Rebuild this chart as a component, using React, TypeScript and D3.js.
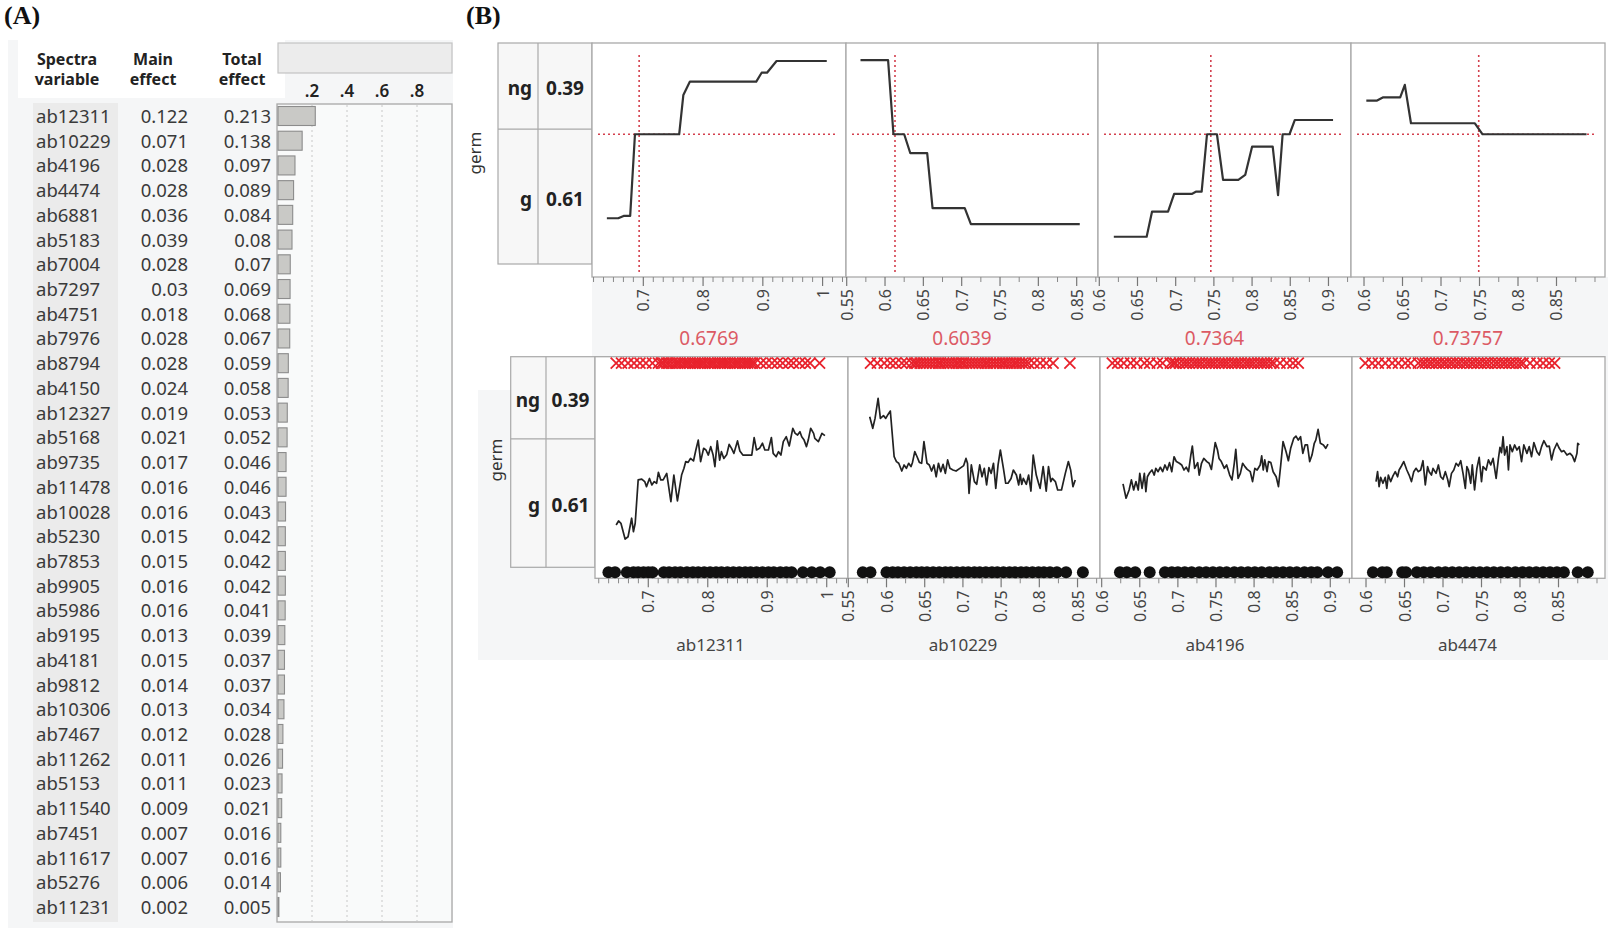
import React from "react";
import * as d3 from "d3";

// ---------- Panel A data ----------
const spectraVars = ["ab12311","ab10229","ab4196","ab4474","ab6881","ab5183","ab7004","ab7297","ab4751","ab7976","ab8794","ab4150","ab12327","ab5168","ab9735","ab11478","ab10028","ab5230","ab7853","ab9905","ab5986","ab9195","ab4181","ab9812","ab10306","ab7467","ab11262","ab5153","ab11540","ab7451","ab11617","ab5276","ab11231"];
const mainEffects = [0.122,0.071,0.028,0.028,0.036,0.039,0.028,0.03,0.018,0.028,0.028,0.024,0.019,0.021,0.017,0.016,0.016,0.015,0.015,0.016,0.016,0.013,0.015,0.014,0.013,0.012,0.011,0.011,0.009,0.007,0.007,0.006,0.002];
const totalEffects = [0.213,0.138,0.097,0.089,0.084,0.08,0.07,0.069,0.068,0.067,0.059,0.058,0.053,0.052,0.046,0.046,0.043,0.042,0.042,0.042,0.041,0.039,0.037,0.037,0.034,0.028,0.026,0.023,0.021,0.016,0.016,0.014,0.005];
const barTicks = [0.2, 0.4, 0.6, 0.8];
const barTickLabels = [".2", ".4", ".6", ".8"];

// ---------- Panel B data ----------
const profileVars = ["ab12311", "ab10229", "ab4196", "ab4474"];
const currentLabels = ["0.6769", "0.6039", "0.7364", "0.73757"];
const crosshairX = [0.693, 0.613, 0.746, 0.749];
const crosshairY = 0.61;
const levels = ["ng", "g"];
const levelProbs = [0.39, 0.61];

const topDomains = [[0.6141, 1.0392], [0.5491, 0.8778], [0.5983, 0.9295], [0.5831, 0.913]];
const bottomDomains = [[0.6104, 1.0358], [0.5496, 0.8794], [0.5978, 0.9285], [0.5818, 0.9104]];
const majorTicks = [[0.7, 0.8, 0.9, 1], [0.55, 0.6, 0.65, 0.7, 0.75, 0.8, 0.85], [0.6, 0.65, 0.7, 0.75, 0.8, 0.85, 0.9], [0.6, 0.65, 0.7, 0.75, 0.8, 0.85]];
const majorTickLabels = [["0.7", "0.8", "0.9", "1"], ["0.55", "0.6", "0.65", "0.7", "0.75", "0.8", "0.85"], ["0.6", "0.65", "0.7", "0.75", "0.8", "0.85", "0.9"], ["0.6", "0.65", "0.7", "0.75", "0.8", "0.85"]];
const minorSteps = [0.1 / 6, 0.025, 0.025, 0.025];

// profiler step curves [x, y]
const profAb12311 = [[0.639,0.251],[0.658,0.251],[0.667,0.261],[0.678,0.261],[0.686,0.61],[0.692,0.61],[0.760,0.61],[0.767,0.778],[0.778,0.835],[0.889,0.835],[0.898,0.873],[0.907,0.873],[0.923,0.923],[1.007,0.923]];
const profAb10229 = [[0.568,0.927],[0.604,0.927],[0.611,0.61],[0.625,0.61],[0.633,0.529],[0.655,0.529],[0.662,0.294],[0.704,0.294],[0.712,0.226],[0.854,0.226]];
const profAb4196 = [[0.619,0.172],[0.662,0.172],[0.669,0.279],[0.690,0.279],[0.698,0.355],[0.721,0.355],[0.727,0.365],[0.734,0.365],[0.741,0.61],[0.754,0.61],[0.762,0.415],[0.782,0.415],[0.791,0.436],[0.800,0.557],[0.827,0.557],[0.834,0.350],[0.840,0.61],[0.849,0.61],[0.856,0.671],[0.906,0.671]];
const profAb4474 = [[0.603,0.754],[0.617,0.754],[0.625,0.768],[0.647,0.768],[0.653,0.821],[0.661,0.657],[0.744,0.657],[0.754,0.61],[0.889,0.61]];

// smoothed observed response [x, y]
const fitAb12311 = [[0.646,0.201],[0.650,0.220],[0.654,0.209],[0.661,0.134],[0.666,0.145],[0.672,0.233],[0.675,0.169],[0.678,0.209],[0.683,0.415],[0.689,0.419],[0.694,0.407],[0.697,0.383],[0.702,0.422],[0.706,0.391],[0.710,0.407],[0.714,0.399],[0.717,0.451],[0.721,0.415],[0.725,0.415],[0.731,0.446],[0.738,0.312],[0.743,0.438],[0.749,0.315],[0.756,0.438],[0.760,0.470],[0.763,0.502],[0.767,0.498],[0.771,0.517],[0.776,0.505],[0.780,0.557],[0.784,0.604],[0.788,0.502],[0.793,0.565],[0.797,0.557],[0.801,0.533],[0.805,0.573],[0.809,0.533],[0.812,0.478],[0.816,0.600],[0.820,0.509],[0.823,0.549],[0.827,0.517],[0.832,0.536],[0.836,0.584],[0.840,0.565],[0.844,0.541],[0.850,0.600],[0.854,0.552],[0.859,0.533],[0.865,0.533],[0.874,0.533],[0.878,0.616],[0.882,0.557],[0.887,0.565],[0.892,0.589],[0.896,0.557],[0.902,0.557],[0.907,0.616],[0.910,0.541],[0.915,0.525],[0.919,0.549],[0.923,0.533],[0.927,0.597],[0.932,0.620],[0.937,0.576],[0.943,0.660],[0.947,0.636],[0.951,0.628],[0.955,0.644],[0.958,0.620],[0.962,0.604],[0.966,0.573],[0.969,0.604],[0.973,0.660],[0.978,0.636],[0.980,0.612],[0.986,0.597],[0.992,0.636],[0.997,0.625]];
const fitAb10229 = [[0.578,0.715],[0.582,0.660],[0.585,0.707],[0.589,0.802],[0.592,0.707],[0.596,0.720],[0.599,0.707],[0.602,0.726],[0.605,0.742],[0.610,0.525],[0.613,0.502],[0.616,0.494],[0.620,0.457],[0.623,0.486],[0.626,0.470],[0.629,0.494],[0.632,0.478],[0.634,0.498],[0.637,0.549],[0.640,0.525],[0.643,0.498],[0.646,0.494],[0.649,0.597],[0.653,0.494],[0.656,0.486],[0.659,0.457],[0.662,0.486],[0.665,0.430],[0.668,0.494],[0.671,0.454],[0.674,0.489],[0.677,0.446],[0.680,0.510],[0.683,0.470],[0.687,0.462],[0.691,0.457],[0.696,0.470],[0.701,0.483],[0.704,0.517],[0.706,0.494],[0.708,0.351],[0.711,0.486],[0.715,0.407],[0.718,0.394],[0.722,0.486],[0.725,0.430],[0.728,0.470],[0.731,0.391],[0.734,0.473],[0.737,0.446],[0.740,0.494],[0.743,0.375],[0.746,0.486],[0.749,0.557],[0.753,0.470],[0.756,0.399],[0.759,0.399],[0.763,0.422],[0.766,0.462],[0.770,0.438],[0.773,0.391],[0.775,0.441],[0.777,0.394],[0.779,0.422],[0.783,0.394],[0.786,0.438],[0.789,0.362],[0.792,0.533],[0.796,0.438],[0.799,0.399],[0.801,0.375],[0.805,0.478],[0.809,0.362],[0.812,0.478],[0.815,0.407],[0.817,0.422],[0.821,0.407],[0.824,0.367],[0.829,0.367],[0.834,0.446],[0.838,0.502],[0.841,0.462],[0.844,0.383],[0.847,0.415]];
const fitAb4196 = [[0.628,0.396],[0.632,0.328],[0.636,0.367],[0.639,0.415],[0.642,0.367],[0.645,0.407],[0.648,0.367],[0.650,0.446],[0.653,0.375],[0.656,0.446],[0.658,0.359],[0.660,0.430],[0.663,0.449],[0.666,0.462],[0.669,0.438],[0.671,0.470],[0.674,0.454],[0.677,0.475],[0.680,0.454],[0.683,0.486],[0.686,0.462],[0.689,0.497],[0.692,0.454],[0.695,0.525],[0.698,0.502],[0.702,0.494],[0.705,0.486],[0.708,0.462],[0.711,0.475],[0.714,0.454],[0.717,0.533],[0.719,0.576],[0.722,0.470],[0.726,0.497],[0.728,0.438],[0.731,0.494],[0.734,0.517],[0.738,0.502],[0.741,0.494],[0.744,0.465],[0.749,0.592],[0.752,0.557],[0.754,0.517],[0.757,0.502],[0.761,0.470],[0.764,0.486],[0.768,0.438],[0.771,0.415],[0.774,0.494],[0.776,0.560],[0.779,0.422],[0.782,0.446],[0.785,0.494],[0.788,0.478],[0.791,0.465],[0.795,0.454],[0.798,0.407],[0.801,0.470],[0.804,0.462],[0.808,0.486],[0.810,0.529],[0.812,0.462],[0.814,0.510],[0.817,0.454],[0.819,0.502],[0.822,0.497],[0.825,0.454],[0.829,0.430],[0.832,0.383],[0.835,0.486],[0.838,0.597],[0.842,0.549],[0.845,0.506],[0.848,0.565],[0.852,0.612],[0.855,0.623],[0.858,0.604],[0.861,0.620],[0.864,0.541],[0.867,0.581],[0.870,0.581],[0.873,0.502],[0.876,0.533],[0.879,0.589],[0.881,0.604],[0.884,0.655],[0.887,0.589],[0.891,0.581],[0.894,0.565],[0.897,0.585]];
const fitAb4474 = [[0.613,0.407],[0.615,0.454],[0.617,0.383],[0.619,0.427],[0.622,0.399],[0.625,0.427],[0.627,0.375],[0.629,0.438],[0.632,0.407],[0.635,0.434],[0.638,0.454],[0.641,0.430],[0.643,0.462],[0.646,0.481],[0.649,0.502],[0.653,0.462],[0.656,0.438],[0.659,0.407],[0.662,0.454],[0.665,0.470],[0.668,0.454],[0.671,0.462],[0.674,0.506],[0.677,0.391],[0.680,0.478],[0.682,0.454],[0.685,0.438],[0.687,0.470],[0.691,0.446],[0.694,0.486],[0.697,0.430],[0.700,0.418],[0.703,0.454],[0.706,0.418],[0.708,0.383],[0.711,0.446],[0.714,0.462],[0.717,0.494],[0.720,0.481],[0.723,0.506],[0.726,0.446],[0.729,0.375],[0.731,0.478],[0.733,0.462],[0.736,0.399],[0.738,0.486],[0.741,0.367],[0.744,0.470],[0.747,0.522],[0.750,0.407],[0.752,0.478],[0.756,0.462],[0.759,0.510],[0.762,0.486],[0.765,0.517],[0.769,0.422],[0.772,0.517],[0.774,0.570],[0.776,0.544],[0.778,0.620],[0.780,0.533],[0.783,0.573],[0.785,0.462],[0.787,0.581],[0.790,0.549],[0.793,0.581],[0.796,0.557],[0.799,0.573],[0.802,0.502],[0.805,0.581],[0.809,0.541],[0.812,0.573],[0.815,0.525],[0.818,0.592],[0.822,0.549],[0.825,0.533],[0.828,0.573],[0.831,0.601],[0.835,0.573],[0.838,0.576],[0.841,0.510],[0.844,0.557],[0.848,0.589],[0.851,0.565],[0.854,0.549],[0.857,0.554],[0.861,0.533],[0.865,0.541],[0.868,0.529],[0.871,0.502],[0.874,0.541],[0.875,0.589],[0.877,0.581]];

// observations by germination outcome (x values)
const ngAb12311 = [0.646,0.655,0.666,0.676,0.686,0.696,0.707,0.717,0.722,0.726,0.731,0.735,0.740,0.745,0.749,0.753,0.758,0.762,0.766,0.770,0.775,0.779,0.783,0.787,0.791,0.795,0.800,0.804,0.808,0.812,0.817,0.821,0.825,0.829,0.833,0.837,0.842,0.846,0.850,0.854,0.859,0.863,0.867,0.871,0.875,0.879,0.889,0.898,0.908,0.917,0.926,0.936,0.944,0.954,0.964,0.972,0.988];
const gAb12311 = [0.633,0.644,0.664,0.675,0.683,0.692,0.700,0.707,0.726,0.735,0.745,0.754,0.765,0.775,0.784,0.794,0.804,0.814,0.823,0.833,0.843,0.853,0.863,0.872,0.882,0.892,0.902,0.911,0.922,0.932,0.941,0.960,0.975,0.989,1.005];
const ngAb10229 = [0.579,0.588,0.597,0.605,0.612,0.620,0.626,0.633,0.637,0.640,0.644,0.648,0.652,0.656,0.660,0.664,0.668,0.671,0.675,0.679,0.683,0.687,0.691,0.694,0.698,0.701,0.705,0.709,0.713,0.717,0.721,0.725,0.729,0.732,0.736,0.740,0.744,0.748,0.752,0.755,0.759,0.763,0.767,0.770,0.774,0.778,0.782,0.786,0.793,0.801,0.809,0.818,0.840];
const gAb10229 = [0.569,0.579,0.600,0.608,0.615,0.623,0.631,0.639,0.646,0.653,0.661,0.669,0.677,0.684,0.692,0.700,0.707,0.715,0.722,0.730,0.738,0.745,0.753,0.761,0.768,0.776,0.783,0.791,0.799,0.806,0.814,0.823,0.835,0.857];
const ngAb4196 = [0.614,0.621,0.629,0.638,0.646,0.656,0.663,0.673,0.680,0.690,0.694,0.697,0.702,0.707,0.711,0.715,0.720,0.724,0.728,0.732,0.737,0.741,0.745,0.749,0.754,0.758,0.762,0.766,0.771,0.775,0.779,0.783,0.788,0.792,0.796,0.800,0.805,0.809,0.813,0.817,0.822,0.826,0.834,0.843,0.851,0.858];
const gAb4196 = [0.624,0.633,0.644,0.663,0.683,0.692,0.700,0.709,0.718,0.728,0.737,0.746,0.755,0.764,0.774,0.783,0.792,0.801,0.810,0.820,0.829,0.838,0.847,0.856,0.866,0.875,0.883,0.897,0.909];
const ngAb4474 = [0.599,0.608,0.616,0.625,0.634,0.642,0.651,0.658,0.668,0.673,0.677,0.682,0.686,0.691,0.695,0.700,0.704,0.709,0.713,0.718,0.722,0.727,0.731,0.736,0.740,0.745,0.749,0.754,0.758,0.763,0.768,0.772,0.777,0.781,0.786,0.790,0.795,0.800,0.804,0.813,0.822,0.830,0.838,0.845];
const gAb4474 = [0.609,0.621,0.627,0.647,0.652,0.666,0.675,0.684,0.694,0.703,0.712,0.721,0.730,0.739,0.748,0.757,0.766,0.775,0.784,0.794,0.803,0.812,0.821,0.830,0.839,0.848,0.857,0.875,0.888];

const profiles = [profAb12311, profAb10229, profAb4196, profAb4474];
const fits = [fitAb12311, fitAb10229, fitAb4196, fitAb4474];
const ngObs = [ngAb12311, ngAb10229, ngAb4196, ngAb4474];
const gObs = [gAb12311, gAb10229, gAb4196, gAb4474];

// ---------- layout ----------
const FONT = "'Noto Sans', 'Open Sans', sans-serif";
const BORDER = "#a9a9a9";
const PANEL_BG = "#f5f6f7";
const RED_DOT = "#d3404e";

const topPanelsX = [[592, 846], [846, 1098], [1098, 1351], [1351, 1605]];
const botPanelsX = [[595, 848], [848, 1100], [1100, 1352], [1352, 1605]];
const TOP_Y0 = 43, TOP_Y1 = 277;
const BOT_Y0 = 356.7, BOT_Y1 = 578.3;

function minorTicks(domain: number[], step: number, majors: number[]) {
  const out: number[] = [];
  const k0 = Math.ceil(domain[0] / step - 1e-9);
  const k1 = Math.floor(domain[1] / step + 1e-9);
  for (let k = k0; k <= k1; k++) {
    const v = k * step;
    if (!majors.some((m) => Math.abs(m - v) < 1e-6)) out.push(v);
  }
  return out;
}

function Axis({ xs, i, y }: { xs: d3.ScaleLinear<number, number>; i: number; y: number }) {
  const dom = xs.domain();
  const minors = minorTicks(dom, minorSteps[i], majorTicks[i]);
  return (
    <g>
      {minors.map((v, k) => (
        <line key={"m" + k} x1={xs(v)} x2={xs(v)} y1={y} y2={y + 5} stroke="#888" strokeWidth={1} />
      ))}
      {majorTicks[i].map((v, k) => (
        <g key={"M" + k}>
          <line x1={xs(v)} x2={xs(v)} y1={y} y2={y + 9} stroke="#777" strokeWidth={1.2} />
          <text transform={`translate(${xs(v)},${y + 12}) rotate(-90)`} textAnchor="end" dominantBaseline="central" fontSize={16} fill="#444" fontFamily={FONT}>
            {majorTickLabels[i][k]}
          </text>
        </g>
      ))}
    </g>
  );
}

function LabelBox({ x0, xm, x1, y0, y1, ty }: { x0: number; xm: number; x1: number; y0: number; y1: number; ty: d3.ScaleLinear<number, number> }) {
  const cut = ty(levelProbs[0]);
  const cells = [[y0, cut], [cut, y1]];
  return (
    <g fontFamily={FONT}>
      <rect x={x0} y={y0} width={x1 - x0} height={y1 - y0} fill="#f7f7f7" stroke={BORDER} strokeWidth={1.2} />
      <line x1={xm} x2={xm} y1={y0} y2={y1} stroke={BORDER} strokeWidth={1.2} />
      <line x1={x0} x2={x1} y1={cut} y2={cut} stroke={BORDER} strokeWidth={1.2} />
      {levels.map((lv, k) => {
        const cy = (cells[k][0] + cells[k][1]) / 2 + 2;
        return (
          <g key={lv}>
            <text x={xm - 6} y={cy} textAnchor="end" dominantBaseline="central" fontSize={19} fontWeight={700} fill="#222">{lv}</text>
            <text x={(xm + x1) / 2} y={cy} textAnchor="middle" dominantBaseline="central" fontSize={19} fontWeight={700} fill="#222">{levelProbs[k].toFixed(2)}</text>
          </g>
        );
      })}
    </g>
  );
}

export default function App() {
  // Panel A scales
  const rowY = d3.scalePoint<string>().domain(spectraVars).range([115.5, 906.5]);
  const barX = d3.scaleLinear().domain([0, 1]).range([277, 452]);

  const topY = d3.scaleLinear().domain([0, 1]).range([TOP_Y1, TOP_Y0]);
  const botY = d3.scaleLinear().domain([0, 1]).range([567.3, BOT_Y0]);
  const topLabY = d3.scaleLinear().domain([0, 1]).range([43, 264]);
  const botLabY = d3.scaleLinear().domain([0, 1]).range([BOT_Y0, 567.3]);

  return (
    <div style={{ position: "absolute", left: 0, top: 0 }}>
      <svg width={1614} height={936} style={{ display: "block", background: "#fff" }} fontFamily={FONT}>
        {/* ---------------- Panel A ---------------- */}
        <text x={4} y={24} fontFamily="'Liberation Serif', 'DejaVu Serif', serif" fontWeight={700} fontSize={26} fill="#111">(A)</text>
        <rect x={8} y={40} width={445} height={888} fill={PANEL_BG} />
        <rect x={33} y={103} width={85} height={819} fill="#ebebeb" />
        <rect x={18} y={40} width={267} height={58} fill="#fff" />
        {[["Spectra", "variable", 67], ["Main", "effect", 153], ["Total", "effect", 242]].map(([a, b, cx]) => (
          <g key={a as string}>
            <text x={cx as number} y={59} textAnchor="middle" dominantBaseline="central" fontSize={16} fontWeight={700} fill="#222">{a}</text>
            <text x={cx as number} y={79} textAnchor="middle" dominantBaseline="central" fontSize={16} fontWeight={700} fill="#222">{b}</text>
          </g>
        ))}
        <rect x={278} y={43} width={174} height={30} fill="#ececec" stroke="#c4c4c4" strokeWidth={1.2} />
        {barTicks.map((t, k) => (
          <text key={t} x={barX(t)} y={90} textAnchor="middle" dominantBaseline="central" fontSize={17} fontWeight={600} fill="#222">{barTickLabels[k]}</text>
        ))}
        <rect x={277} y={104} width={175} height={818} fill="#f9fafa" stroke="#a8a8a8" strokeWidth={1.3} />
        {barTicks.map((t) => (
          <line key={t} x1={barX(t)} x2={barX(t)} y1={105} y2={921} stroke="#c8c8c8" strokeWidth={1} strokeDasharray="2,3" />
        ))}
        {spectraVars.map((name, i) => {
          const y = rowY(name) as number;
          return (
            <g key={name}>
              <rect x={barX(0) + 1} y={y - 9} width={Math.max(0.5, barX(totalEffects[i]) - barX(0))} height={19} fill="#c9c9c6" stroke="#8c8c8c" strokeWidth={1.1} />
              <text x={36} y={y} dominantBaseline="central" fontSize={18.5} fill="#3a3a3a">{name}</text>
              <text x={188} y={y} textAnchor="end" dominantBaseline="central" fontSize={18.5} fill="#3a3a3a">{String(mainEffects[i])}</text>
              <text x={271} y={y} textAnchor="end" dominantBaseline="central" fontSize={18.5} fill="#3a3a3a">{String(totalEffects[i])}</text>
            </g>
          );
        })}

        {/* ---------------- Panel B ---------------- */}
        <text x={466} y={24} fontFamily="'Liberation Serif', 'DejaVu Serif', serif" fontWeight={700} fontSize={26} fill="#111">(B)</text>
        <rect x={592} y={277} width={1016} height={80} fill={PANEL_BG} />
        <rect x={510} y={357} width={1098} height={33} fill={PANEL_BG} />
        <rect x={478} y={390} width={1130} height={270} fill={PANEL_BG} />

        {/* top profiler */}
        <LabelBox x0={498} xm={538} x1={592} y0={43} y1={264} ty={topLabY} />
        <text transform="translate(474,153) rotate(-90)" textAnchor="middle" dominantBaseline="central" fontSize={17} fill="#333">germ</text>
        {profileVars.map((v, i) => {
          const [x0, x1] = topPanelsX[i];
          const xs = d3.scaleLinear().domain(topDomains[i]).range([x0, x1]);
          const line = d3.line<number[]>().x((d) => xs(d[0])).y((d) => topY(d[1]));
          const cx = xs(crosshairX[i]);
          const cy = topY(crosshairY);
          return (
            <g key={v}>
              <rect x={x0} y={TOP_Y0} width={x1 - x0} height={TOP_Y1 - TOP_Y0} fill="#fff" stroke={BORDER} strokeWidth={1.3} />
              <line x1={cx} x2={cx} y1={TOP_Y0 + 12} y2={TOP_Y1 - 5} stroke={RED_DOT} strokeWidth={1.6} strokeDasharray="2,3" />
              <line x1={x0 + 6} x2={x1 - 9} y1={cy} y2={cy} stroke={RED_DOT} strokeWidth={1.6} strokeDasharray="2,3" />
              <path d={line(profiles[i]) || ""} fill="none" stroke="#333" strokeWidth={2.2} strokeLinejoin="round" />
              <Axis xs={xs} i={i} y={TOP_Y1} />
              <text x={(x0 + x1) / 2 - 10} y={338} textAnchor="middle" dominantBaseline="central" fontSize={19} fill="#dc5a64">{currentLabels[i]}</text>
            </g>
          );
        })}

        {/* bottom panels */}
        <LabelBox x0={510.7} xm={546} x1={595} y0={BOT_Y0} y1={567.3} ty={botLabY} />
        <text transform="translate(495,460) rotate(-90)" textAnchor="middle" dominantBaseline="central" fontSize={17} fill="#333">germ</text>
        {profileVars.map((v, i) => {
          const [x0, x1] = botPanelsX[i];
          const xs = d3.scaleLinear().domain(bottomDomains[i]).range([x0, x1]);
          const line = d3.line<number[]>().x((d) => xs(d[0])).y((d) => botY(d[1]));
          const xy = BOT_Y0 + 6.5;
          const dy = BOT_Y1 - 6;
          const s = 5.5;
          return (
            <g key={v}>
              <rect x={x0} y={BOT_Y0} width={x1 - x0} height={BOT_Y1 - BOT_Y0} fill="#fff" stroke={BORDER} strokeWidth={1.3} />
              <path d={line(fits[i]) || ""} fill="none" stroke="#222" strokeWidth={1.7} strokeLinejoin="round" />
              {ngObs[i].map((o, k) => (
                <path key={"x" + k} d={`M${xs(o) - s},${xy - s}L${xs(o) + s},${xy + s}M${xs(o) - s},${xy + s}L${xs(o) + s},${xy - s}`} stroke="#e8222c" strokeWidth={1.8} fill="none" />
              ))}
              {gObs[i].map((o, k) => (
                <circle key={"g" + k} cx={xs(o)} cy={dy} r={6} fill="#111" />
              ))}
              <Axis xs={xs} i={i} y={BOT_Y1} />
              <text x={(x0 + x1) / 2 - 11} y={644} textAnchor="middle" dominantBaseline="central" fontSize={17} fill="#444">{v}</text>
            </g>
          );
        })}
      </svg>
    </div>
  );
}
